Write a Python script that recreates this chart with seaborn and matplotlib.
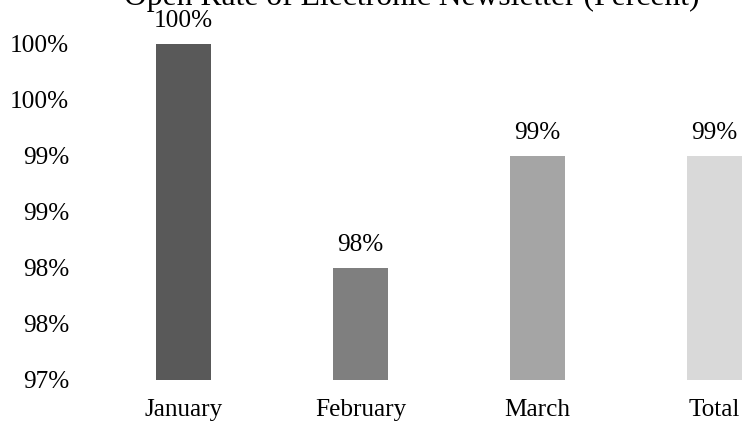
import math
import matplotlib
matplotlib.use("Agg")
import matplotlib.pyplot as plt
from matplotlib.ticker import FuncFormatter, MultipleLocator
import pandas as pd
import seaborn as sns

# Monthly open rates of the electronic newsletter, in percent
months = ["January", "February", "March", "Total"]
open_rate = [100, 98, 99, 99]
value_labels = ["100%", "98%", "99%", "99%"]
bar_colors = ["#595959", "#7f7f7f", "#a5a5a5", "#d9d9d9"]
title = "Open Rate of Electronic Newsletter (Percent)"

df = pd.DataFrame({"month": months, "rate": open_rate})

sns.set_theme(style="white")
plt.rcParams["font.family"] = ["Liberation Serif", "DejaVu Serif"]

W, H = 745, 423
fig = plt.figure(figsize=(W / 100, H / 100), dpi=100)
ax = fig.add_axes([95 / W, 1 - 380 / H, (W - 95) / W, 336 / H])

sns.barplot(
    data=df, x="month", y="rate", hue="month", palette=bar_colors,
    width=0.316, legend=False, ax=ax, saturation=1, linewidth=0,
)

ax.set_ylim(97, 100)
ax.set_xlim(-0.5, -0.5 + (W - 95) / 177)
ax.yaxis.set_major_locator(MultipleLocator(0.5))
ax.yaxis.set_major_formatter(FuncFormatter(lambda v, _: f"{math.floor(v + 0.5)}%"))

ax.set_xlabel("")
ax.set_ylabel("")
for side in ax.spines.values():
    side.set_visible(False)
ax.tick_params(axis="y", length=0, pad=18.5, labelsize=18.2, colors="black")
ax.tick_params(axis="x", length=0, pad=13.5, labelsize=18.2, colors="black")

for container, lab in zip(ax.containers, value_labels):
    ax.bar_label(container, labels=[lab], padding=8.5, fontsize=18.2, color="black")

fig.text(412 / W, 1 - 5 / H, title, ha="center", va="baseline", fontsize=22.8, color="black")

fig.savefig("out.png", dpi=100)
